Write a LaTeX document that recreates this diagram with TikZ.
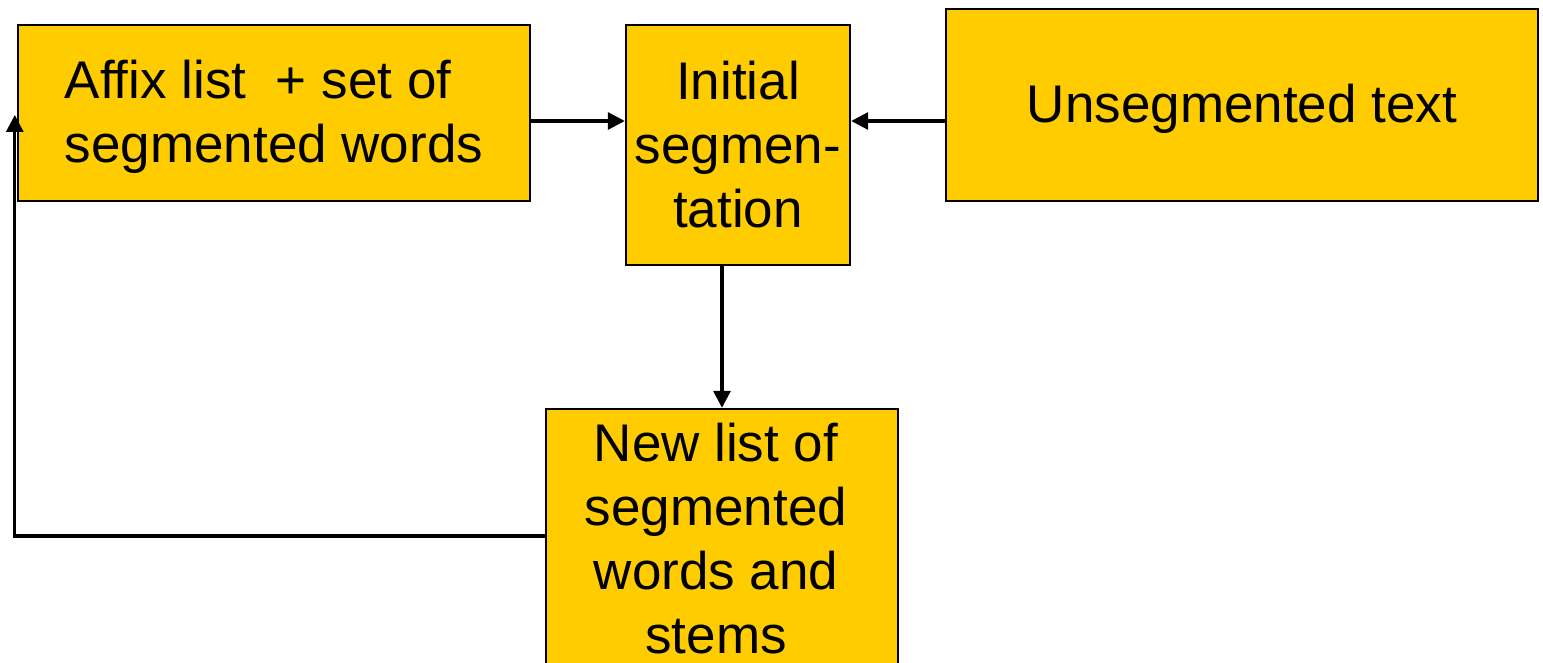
\documentclass[tikz,border=0pt]{standalone}
\usepackage{fontspec}
\setmainfont{Liberation Sans}
\usetikzlibrary{arrows.meta, calc}
\definecolor{boxyellow}{HTML}{FFCC00}
\newcommand{\lowered}[1]{\raisebox{-2pt}[\height][\depth]{#1}}
\newcommand{\padr}{\hbox to 6pt{}}

\begin{document}
\begin{tikzpicture}[x=0.5pt, y=-0.5pt,
  stagebox/.style={draw=black, line width=1.2pt, fill=boxyellow, inner sep=0pt,
    font=\fontsize{26.5pt}{32pt}\selectfont},
  flow/.style={line width=1.6pt, -{Triangle[length=8.5pt, width=8.5pt]}}]

\useasboundingbox (0,0) rectangle (1543,663);

% boxes
\node[stagebox, minimum width=256pt, minimum height=88pt, align=left] (affix) at (274,113)
  {\lowered{Affix list\ \ + set of}\\\lowered{segmented words}};
\node[stagebox, minimum width=112pt, minimum height=120pt, align=center] (init) at (738,145)
  {Initial\\segmen-\\tation};
\node[stagebox, minimum width=296pt, minimum height=96pt] (raw) at (1242,105)
  {\lowered{Unsegmented text}};
\node[stagebox, minimum width=176pt, minimum height=130pt, align=center] (newlist) at (722,539)
  {New list of\padr\\segmented\padr\\words and\padr\\stems\padr};

% connectors
\coordinate (row) at (0,121);
\draw[flow] (affix.east |- row) -- (init.west |- row);
\draw[flow] (raw.west |- row) -- (init.east |- row);
\draw[flow] (init.south -| newlist.north) -- (newlist.north);
\draw[flow] ([yshift=1.5pt]newlist.west) -| ([xshift=-1pt,yshift=-1pt]affix.west);

\end{tikzpicture}
\end{document}
